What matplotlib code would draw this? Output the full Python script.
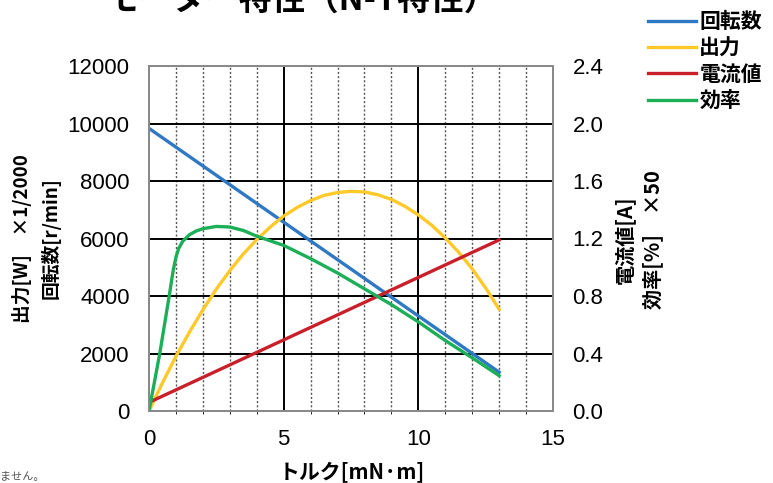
import matplotlib
matplotlib.use("Agg")
import matplotlib.pyplot as plt
from matplotlib.ticker import MultipleLocator, FormatStrFormatter
import numpy as np

# データ
torque_lin = [0, 13]                      # mN·m
speed = [9830, 1350]                      # r/min
current = [0.06, 1.19]                    # A

torque_out = [0, 0.5, 1, 1.5, 2, 2.5, 3, 3.5, 4, 4.5, 5, 5.5, 6, 6.5, 7, 7.5,
              8, 8.5, 9, 9.5, 10, 10.5, 11, 11.5, 12, 12.5, 13]
output_w = [0, 0.49, 0.95, 1.37, 1.76, 2.12, 2.44, 2.73, 2.98, 3.20, 3.39, 3.54, 3.66, 3.75,
            3.80, 3.82, 3.81, 3.76, 3.68, 3.56, 3.41, 3.23, 3.01, 2.76, 2.47, 2.14, 1.77]

torque_eff = [0, 0.4, 0.75, 0.9, 1.0, 1.1, 1.25, 1.5, 1.75, 2.0, 2.5, 3.0, 3.5, 4, 4.5,
              5, 6, 7, 8, 9, 10, 11, 12, 13]
efficiency = [0, 20, 40, 49, 53.5, 56.5, 59, 61.3, 62.6, 63.4, 64.2, 64.0, 62.8, 60.8, 59.2,
              57.6, 53, 48, 42.5, 37, 31, 24.5, 18.5, 12.3]

JP = ["Noto Sans CJK JP", "DejaVu Sans"]
NUM = ["Liberation Sans Narrow", "Liberation Sans", "DejaVu Sans"]

plt.rcParams["font.family"] = NUM

fig = plt.figure(figsize=(7.73, 4.83), dpi=100)
ax = fig.add_axes([149/773, 1-411/483, (553-149)/773, (411-66)/483])
ax2 = ax.twinx()

# グリッド
ax.set_xlim(0, 15)
ax.set_ylim(0, 12000)
ax.xaxis.set_major_locator(MultipleLocator(5))
ax.xaxis.set_minor_locator(MultipleLocator(1))
ax.yaxis.set_major_locator(MultipleLocator(2000))
ax.grid(which="major", axis="both", color="black", lw=1.4)
ax.grid(which="minor", axis="x", color="#555555", lw=1.0, ls=(0, (1.5, 1.5)))
ax.set_axisbelow(True)

ax2.set_ylim(0, 2.4)
ax2.yaxis.set_major_locator(MultipleLocator(0.4))
ax2.yaxis.set_major_formatter(FormatStrFormatter("%.1f"))

lw = 2.4
l1, = ax.plot(torque_lin, speed, color="#2F78C4", lw=lw)
l2, = ax.plot(torque_out, np.array(output_w) * 2000, color="#FFC92A", lw=lw)
l3, = ax2.plot(torque_lin, current, color="#C8202A", lw=lw)
l4, = ax2.plot(torque_eff, np.array(efficiency) / 50, color="#1DAE58", lw=lw)

for a in (ax, ax2):
    for s in a.spines.values():
        s.set_color("#8a8a8a")
        s.set_linewidth(1.3)
    a.tick_params(length=0, labelsize=16)
ax.tick_params(axis="y", pad=14)
ax.tick_params(axis="x", pad=13)
ax2.tick_params(axis="y", pad=14)

# 軸ラベル
fig.text(22/773, 1-239/483, "出力[W]　×1/2000", rotation=90, ha="center", va="center",
         fontsize=13.5, fontweight="bold", family=JP)
fig.text(51/773, 1-238/483, "回転数[r/min]", rotation=90, ha="center", va="center",
         fontsize=13.5, fontweight="bold", family=JP)
fig.text(624/773, 1-240/483, "電流値[A]", rotation=90, ha="center", va="center",
         fontsize=14.5, fontweight="bold", family=JP)
fig.text(653/773, 1-240/483, "効率[%]　×50", rotation=90, ha="center", va="center",
         fontsize=14.5, fontweight="bold", family=JP)
fig.text(352/773, 1-473/483, "トルク[mN·m]", ha="center", va="center",
         fontsize=15, fontweight="bold", family=JP)

# タイトル（上が切れている）
fig.text(301/773, 1.0, "モーター特性（N-T特性）", ha="center", va="center",
         fontsize=24, fontweight="bold", family=JP)

fig.text(0.0, 1-477/483, "ません。", ha="left", va="center", fontsize=8,
         color="#555555", family=JP)

leg = fig.legend([l1, l2, l3, l4], ["回転数", "出力", "電流値", "効率"],
                 loc="upper left", bbox_to_anchor=(640/773, 1-3/483),
                 frameon=False, handlelength=2.3, handletextpad=0.15,
                 labelspacing=0.25, borderaxespad=0,
                 prop={"family": JP, "size": 15, "weight": "bold"})

fig.savefig("out.png", dpi=100)
